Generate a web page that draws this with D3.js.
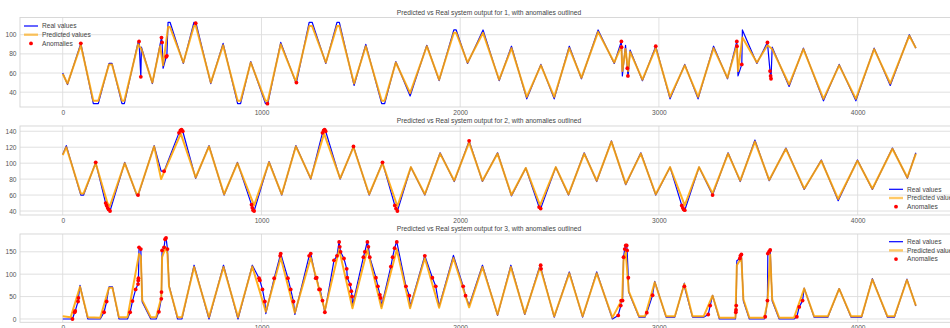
<!DOCTYPE html>
<html>
<head>
<meta charset="utf-8">
<script src="https://cdn.jsdelivr.net/npm/d3@7"></script>
<style>
  body { margin: 0; background: #fff; }
  svg { display: block; }
  text { font-family: "Liberation Sans", Arial, sans-serif; }
</style>
</head>
<body>
<div id="chart"></div>
<script>
// ---- data (turning points of each series) ----
let xTicks = [0, 1000, 2000, 3000, 4000];

// system 1
let s1X    = [0, 24, 91, 154, 179, 233, 248, 298, 310, 379, 396, 451, 490, 505, 530, 540, 607, 660, 670, 745, 807, 880, 895, 946, 1020, 1032, 1097, 1173, 1240, 1255, 1324, 1380, 1392, 1466, 1525, 1605, 1620, 1676, 1748, 1832, 1894, 1968, 1980, 2037, 2115, 2196, 2258, 2335, 2406, 2473, 2549, 2610, 2694, 2775, 2811, 2816, 2832, 2845, 2855, 2917, 2984, 3056, 3130, 3197, 3275, 3345, 3392, 3398, 3420, 3493, 3546, 3570, 3655, 3727, 3828, 3907, 3991, 4083, 4164, 4260, 4293];
let s1Real = [60, 48, 91, 28, 28, 70, 70, 28, 28, 92, 87, 49, 90, 65, 113, 113, 70, 113, 113, 49, 91, 28, 28, 72, 28, 28, 92, 50, 113, 113, 70, 113, 113, 47, 90, 28, 28, 72, 36, 89, 52, 105, 105, 70, 105, 52, 88, 33, 69, 33, 88, 54, 105, 70, 93, 57, 89, 56, 84, 52, 88, 33, 69, 33, 88, 54, 93, 57, 105, 70, 92, 87, 46, 86, 31, 69, 31, 86, 47, 100, 86];
let s1Pred = [59, 49, 89, 31, 31, 69, 69, 31, 31, 90, 85, 50, 88, 68, 108, 108, 71, 109, 109, 50, 89, 31, 31, 71, 31, 31, 90, 51, 109, 109, 71, 109, 109, 49, 88, 31, 31, 71, 39, 88, 53, 102, 102, 71, 102, 53, 86, 35, 68, 35, 86, 55, 103, 71, 88, 62, 85, 62, 82, 53, 86, 35, 68, 35, 86, 55, 89, 62, 97, 71, 89, 85, 48, 85, 33, 68, 33, 85, 49, 99, 86];
let s1AnomX = [91, 384, 393, 497, 500, 521, 524, 669, 1030, 1176, 2811, 2812, 2841, 2844, 2984, 3392, 3393, 3417, 3546, 3559, 3562, 3564];
let s1AnomY = [91, 93, 56, 97, 92, 77, 78, 112, 28, 50, 93, 87, 65, 57, 88, 93, 88, 69, 92, 62, 57, 54];

// system 2
let s2X    = [0, 18, 91, 105, 166, 225, 237, 312, 372, 380, 460, 495, 594, 669, 736, 812, 879, 963, 1038, 1102, 1173, 1248, 1315, 1396, 1463, 1542, 1609, 1684, 1752, 1822, 1899, 1970, 2045, 2112, 2188, 2258, 2330, 2402, 2481, 2545, 2624, 2687, 2761, 2833, 2909, 2984, 3056, 3130, 3202, 3270, 3348, 3409, 3483, 3555, 3639, 3731, 3817, 3902, 3999, 4074, 4175, 4250, 4293];
let s2Real = [111, 122, 60, 60, 101, 45, 40, 101, 60, 60, 122, 90, 141, 81, 122, 60, 101, 40, 102, 60, 122, 80, 142, 80, 121, 60, 101, 40, 95, 60, 113, 77, 128, 77, 113, 59, 94, 43, 95, 60, 113, 77, 128, 73, 113, 60, 95, 41, 95, 60, 113, 77, 129, 78, 119, 67, 104, 53, 104, 67, 119, 81, 113];
let s2Pred = [110, 120, 62, 62, 100, 50, 46, 100, 61, 61, 121, 80, 137, 82, 121, 61, 100, 47, 101, 61, 121, 81, 137, 81, 120, 61, 100, 46, 95, 61, 112, 78, 126, 78, 112, 60, 94, 47, 95, 61, 112, 78, 127, 74, 112, 61, 95, 47, 95, 62, 112, 78, 127, 79, 118, 68, 103, 55, 103, 68, 118, 82, 112];
let s2AnomX = [166, 216, 221, 226, 231, 238, 379, 510, 585, 592, 598, 604, 950, 954, 958, 963, 1307, 1313, 1318, 1323, 1463, 1609, 1671, 1677, 1684, 2045, 2397, 2405, 3115, 3120, 3125, 3130, 3270];
let s2AnomY = [101, 50, 47, 44, 42, 40, 60, 90, 138, 141, 142, 140, 48, 44, 41, 40, 138, 141, 142, 140, 121, 101, 47, 43, 40, 128, 45, 43, 47, 44, 42, 41, 60];

// system 3
let s3X    = [0, 40, 87, 126, 189, 233, 250, 283, 326, 384, 393, 400, 443, 470, 496, 500, 518, 527, 535, 578, 600, 661, 736, 809, 882, 954, 1022, 1097, 1168, 1248, 1319, 1391, 1458, 1533, 1604, 1681, 1748, 1822, 1894, 1966, 2045, 2112, 2188, 2255, 2325, 2402, 2473, 2549, 2616, 2687, 2766, 2815, 2822, 2833, 2848, 2900, 2930, 2979, 3036, 3080, 3128, 3169, 3225, 3270, 3304, 3385, 3392, 3415, 3425, 3455, 3530, 3546, 3560, 3570, 3605, 3680, 3731, 3781, 3850, 3907, 3967, 4020, 4074, 4150, 4185, 4248, 4293];
let s3Real = [0, 0, 75, 0, 0, 72, 72, 0, 0, 160, 155, 38, 0, 0, 45, 153, 181, 156, 75, 0, 0, 120, 0, 120, 0, 120, 12, 146, 10, 146, 15, 174, 30, 174, 28, 174, 27, 142, 28, 142, 30, 120, 8, 120, 10, 120, 4, 105, 4, 105, 0, 40, 142, 166, 60, 4, 4, 84, 4, 4, 80, 4, 4, 53, 0, 0, 130, 144, 40, 0, 0, 41, 154, 40, 0, 0, 69, 4, 4, 68, 4, 4, 90, 4, 4, 89, 29];
let s3Pred = [6, 4, 72, 4, 3, 70, 70, 4, 4, 145, 140, 42, 4, 4, 48, 138, 160, 145, 72, 4, 4, 116, 4, 116, 4, 117, 16, 137, 14, 137, 19, 155, 24, 155, 24, 155, 24, 136, 25, 136, 26, 116, 10, 116, 12, 116, 6, 102, 6, 102, 3, 44, 130, 150, 62, 6, 6, 82, 6, 6, 78, 6, 6, 52, 3, 3, 120, 136, 44, 3, 3, 35, 144, 44, 3, 3, 68, 6, 6, 67, 6, 6, 88, 6, 6, 87, 30];
let s3AnomX = [49, 60, 63, 77, 79, 208, 221, 339, 351, 367, 379, 380, 381, 384, 393, 484, 496, 497, 500, 510, 515, 520, 527, 988, 992, 1005, 1017, 1064, 1094, 1097, 1133, 1147, 1161, 1240, 1248, 1273, 1278, 1290, 1295, 1307, 1319, 1365, 1380, 1391, 1394, 1398, 1415, 1429, 1432, 1446, 1452, 1456, 1513, 1520, 1533, 1538, 1545, 1576, 1586, 1596, 1600, 1651, 1660, 1670, 1681, 1727, 1744, 1822, 1860, 1877, 2015, 2027, 2405, 2407, 2795, 2808, 2810, 2817, 2822, 2828, 2833, 2838, 2840, 2846, 2939, 2968, 3128, 3248, 3258, 3387, 3388, 3389, 3407, 3410, 3415, 3535, 3546, 3548, 3555, 3560, 3694, 3706, 3723];
let s3AnomY = [0, 15, 18, 39, 47, 15, 39, 15, 40, 66, 78, 86, 91, 160, 156, 16, 45, 60, 153, 160, 178, 181, 156, 91, 86, 66, 39, 91, 141, 146, 91, 66, 39, 141, 146, 91, 92, 66, 66, 41, 15, 131, 141, 172, 161, 150, 135, 112, 92, 77, 62, 50, 138, 150, 172, 161, 138, 92, 73, 54, 47, 117, 138, 158, 172, 73, 52, 141, 92, 73, 73, 52, 120, 112, 8, 30, 41, 41, 138, 156, 164, 164, 153, 92, 14, 53, 73, 10, 30, 15, 20, 30, 135, 141, 144, 5, 41, 146, 151, 154, 5, 27, 41];

let legendLabels = ["Real values", "Predicted values", "Anomalies"];

// ---- layout ----
let width = 950, height = 328;
let svg = d3.select("#chart").append("svg")
    .attr("width", width)
    .attr("height", height);

let x = d3.scaleLinear().domain([-215, 4515]).range([20, 960]);

let panels = [
    {id: 1, xs: s1X, real: s1Real, pred: s1Pred, ax: s1AnomX, ay: s1AnomY,
     top: 17.5, bottom: 107, yDomain: [24.5, 118], yTicks: [40, 60, 80, 100],
     titleY: 12.5, legend: {x: 24, y: 26}},
    {id: 2, xs: s2X, real: s2Real, pred: s2Pred, ax: s2AnomX, ay: s2AnomY,
     top: 126, bottom: 215, yDomain: [35, 146.6], yTicks: [40, 60, 80, 100, 120, 140],
     titleY: 121, legend: {x: 889, y: 189.3}},
    {id: 3, xs: s3X, real: s3Real, pred: s3Pred, ax: s3AnomX, ay: s3AnomY,
     top: 234, bottom: 322.3, yDomain: [-7.4, 189.7], yTicks: [0, 50, 100, 150],
     titleY: 228.5, legend: {x: 889, y: 241.7}}
];

panels.forEach(p => drawPanel(p));

function drawPanel(p) {
    let y = d3.scaleLinear().domain(p.yDomain).range([p.bottom, p.top]);
    let g = svg.append("g");

    g.append("clipPath").attr("id", "clip" + p.id)
        .append("rect")
            .attr("x", 20).attr("y", p.top)
            .attr("width", 940).attr("height", p.bottom - p.top);

    // grid
    g.selectAll("line.gx").data(xTicks).join("line")
        .attr("x1", d => x(d)).attr("x2", d => x(d))
        .attr("y1", p.top).attr("y2", p.bottom)
        .attr("stroke", "#dcdcdc").attr("stroke-width", 0.9);
    g.selectAll("line.gy").data(p.yTicks).join("line")
        .attr("x1", 20).attr("x2", 960)
        .attr("y1", d => y(d)).attr("y2", d => y(d))
        .attr("stroke", "#dcdcdc").attr("stroke-width", 0.9);

    g.append("rect")
        .attr("x", 20).attr("y", p.top)
        .attr("width", 940).attr("height", p.bottom - p.top)
        .attr("fill", "none").attr("stroke", "#d4d4d4").attr("stroke-width", 0.9);

    // axes (labels only, seaborn style)
    let yAxis = g.append("g")
        .attr("transform", "translate(20,0)")
        .call(d3.axisLeft(y).tickValues(p.yTicks).tickSize(0).tickPadding(3.5));
    let xAxis = g.append("g")
        .attr("transform", "translate(0," + p.bottom + ")")
        .call(d3.axisBottom(x).tickValues(xTicks).tickFormat(d3.format("d")).tickSize(0).tickPadding(3.2));
    [yAxis, xAxis].forEach(a => {
        a.select(".domain").remove();
        a.selectAll("text")
            .attr("fill", "#555")
            .style("font-size", "6.6px")
            .style("font-family", "'Liberation Sans', Arial, sans-serif");
    });

    g.append("text")
        .attr("x", 489).attr("y", p.titleY)
        .attr("dy", "0.35em")
        .attr("text-anchor", "middle")
        .attr("fill", "#444")
        .style("font-size", "6.7px")
        .text("Predicted vs Real system output for " + p.id + ", with anomalies outlined");

    let plot = g.append("g").attr("clip-path", "url(#clip" + p.id + ")");

    // anomalies are real values too, so the real line passes through them
    let realPts = p.xs.map((v, i) => [v, p.real[i]])
        .concat(p.ax.map((v, i) => [v, p.ay[i]]));
    realPts.sort((a, b) => a[0] - b[0]);
    let predPts = p.xs.map((v, i) => [v, p.pred[i]]);

    let line = d3.line().x(d => x(d[0])).y(d => y(d[1]));

    plot.append("path")
        .datum(realPts)
        .attr("d", line)
        .attr("fill", "none")
        .attr("stroke", "#0000ff")
        .attr("stroke-width", 1.2)
        .attr("stroke-linejoin", "round");

    plot.append("path")
        .datum(predPts)
        .attr("d", line)
        .attr("fill", "none")
        .attr("stroke", "#ffa500")
        .attr("stroke-opacity", 0.88)
        .attr("stroke-width", 2.0)
        .attr("stroke-linejoin", "round");

    plot.selectAll("circle.anom")
        .data(d3.range(p.ax.length))
        .join("circle")
            .attr("cx", i => x(p.ax[i]))
            .attr("cy", i => y(p.ay[i]))
            .attr("r", 1.9)
            .attr("fill", "#ff0000");

    // legend
    let lg = g.append("g").attr("transform", "translate(" + p.legend.x + "," + p.legend.y + ")");
    lg.append("line").attr("x1", 0).attr("x2", 14).attr("y1", 0).attr("y2", 0)
        .attr("stroke", "#0000ff").attr("stroke-width", 1.2);
    lg.append("line").attr("x1", 0).attr("x2", 14).attr("y1", 8.7).attr("y2", 8.7)
        .attr("stroke", "#ffa500").attr("stroke-opacity", 0.6).attr("stroke-width", 2.4);
    lg.append("circle").attr("cx", 7).attr("cy", 17.4).attr("r", 1.9).attr("fill", "#ff0000");
    lg.selectAll("text.leg")
        .data(legendLabels)
        .join("text")
            .attr("x", 18)
            .attr("y", (d, i) => i * 8.7)
            .attr("dy", "0.35em")
            .attr("fill", "#444")
            .style("font-size", "6.6px")
            .text(d => d);
}
</script>
</body>
</html>
